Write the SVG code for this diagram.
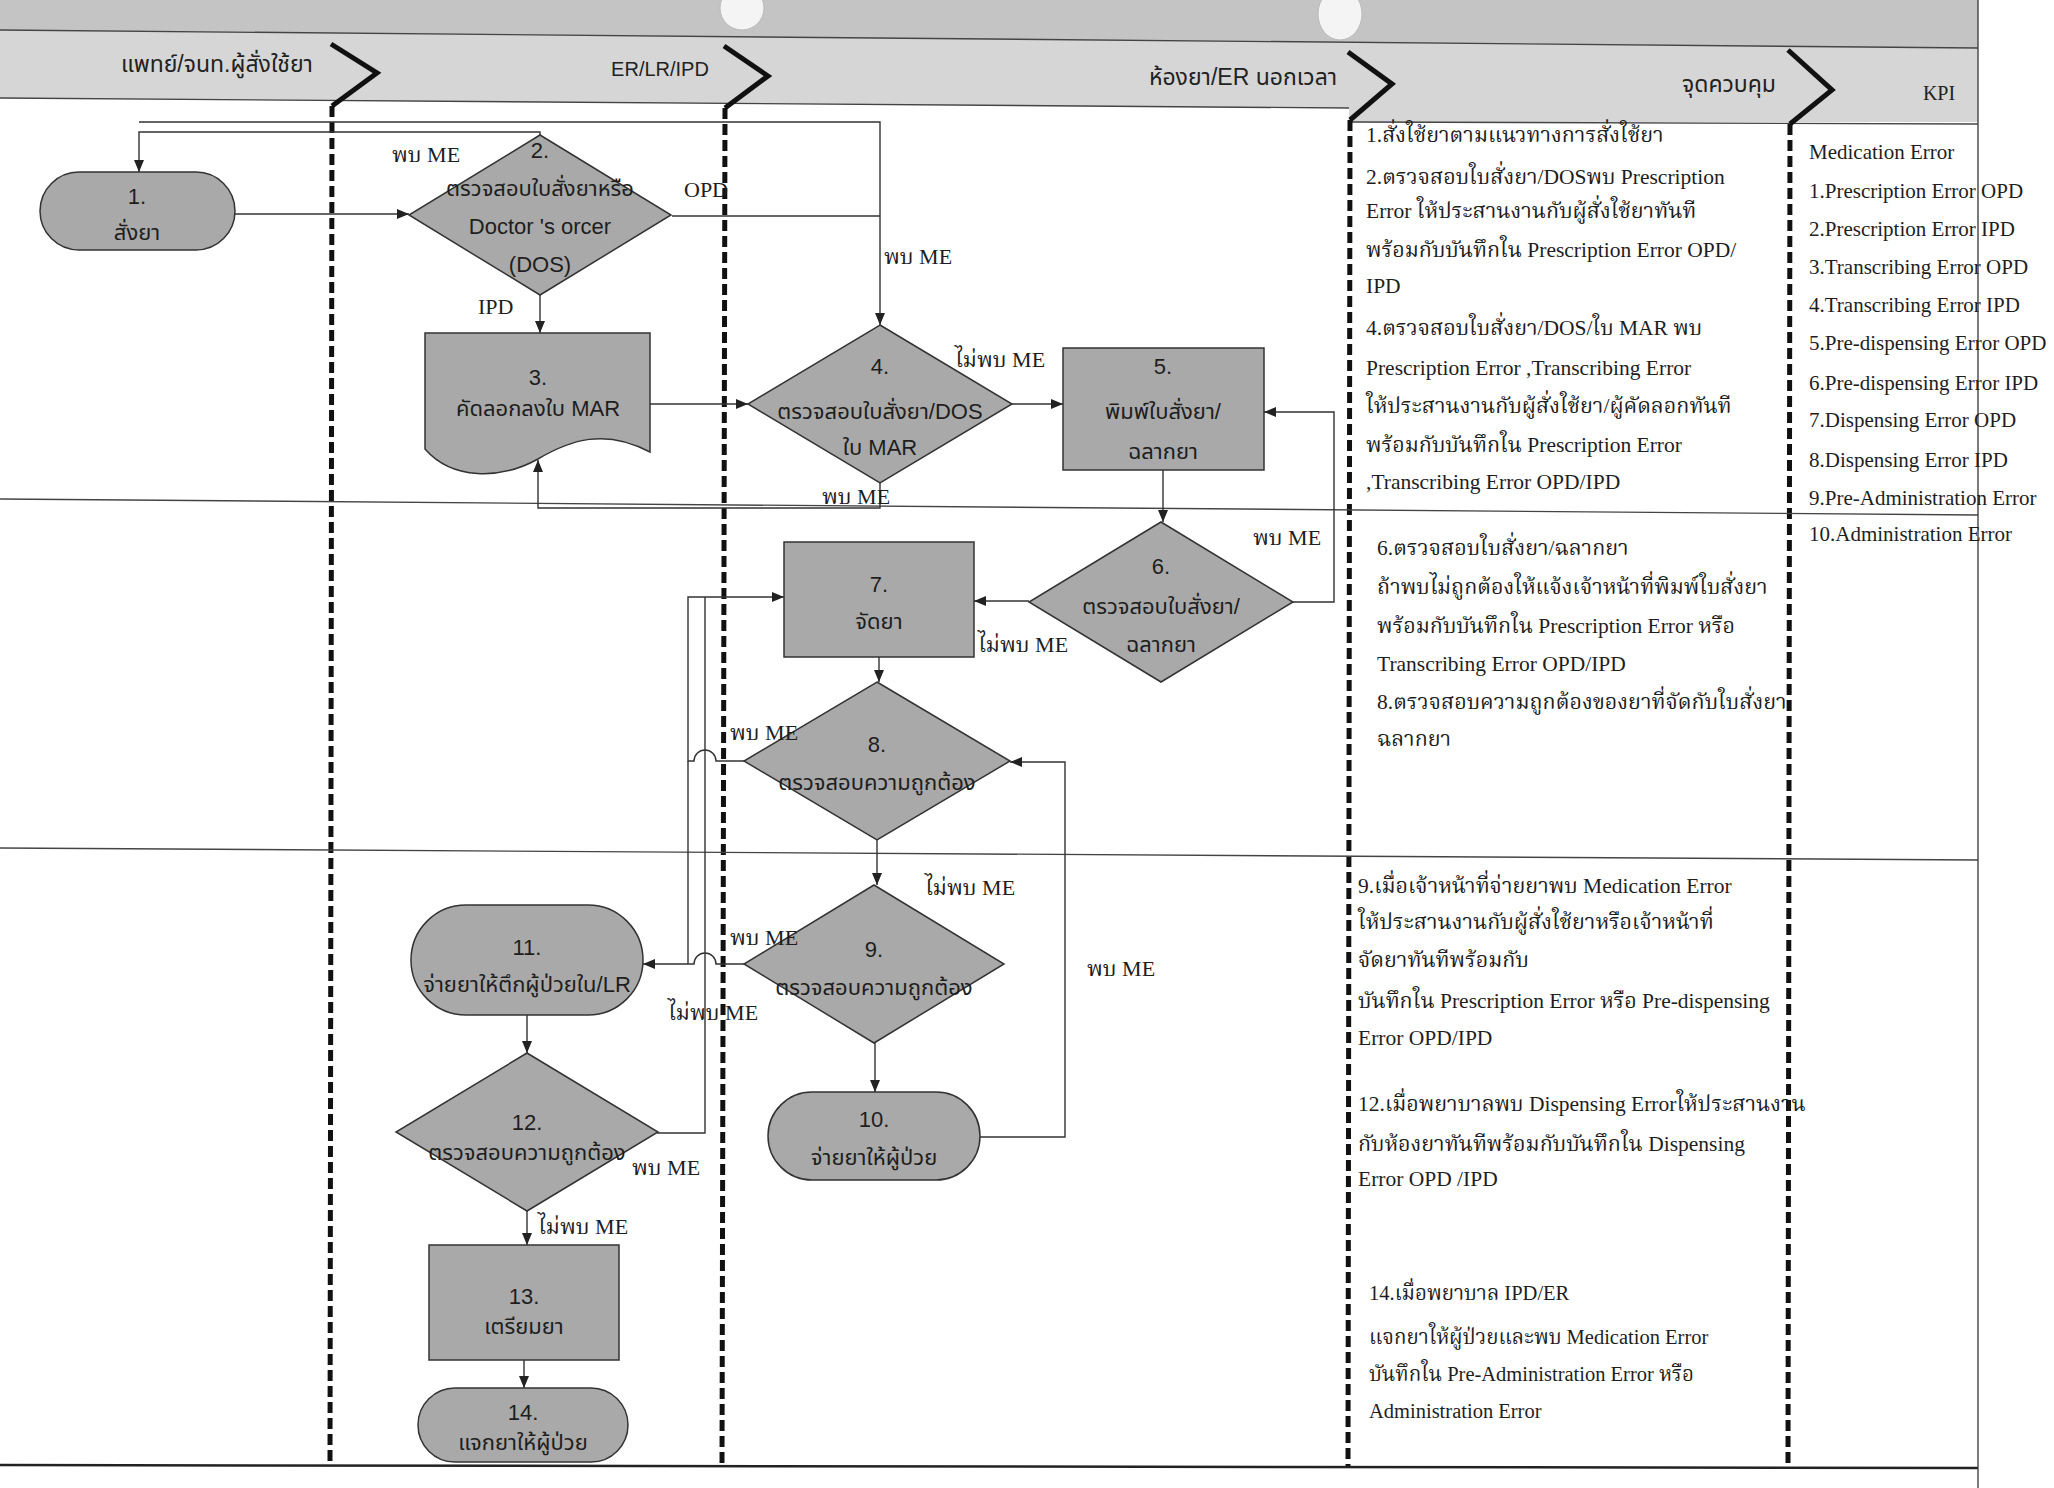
<svg xmlns="http://www.w3.org/2000/svg" width="2054" height="1488" viewBox="0 0 2054 1488">
<style>
.hdr{font-family:"Liberation Sans","Noto Sans Thai","Noto Sans",sans-serif;font-size:23px;fill:#222}
.kpih{font-family:"Liberation Serif","Noto Serif Thai",serif;font-size:20px;fill:#222}
.node{fill:#a9a9a9;stroke:#333;stroke-width:1.5}
.nt{font-family:"Liberation Sans","Noto Sans Thai","Noto Sans",sans-serif;font-size:22px;fill:#1e1e1e;text-anchor:middle}
.lbl{font-family:"Liberation Serif","Noto Serif Thai","Noto Sans Thai",serif;font-size:22px;fill:#1e1e1e}
.ctl{font-family:"Liberation Serif","Noto Serif Thai","Noto Sans Thai",serif;font-size:21.5px;fill:#1e1e1e}
.kpi{font-family:"Liberation Serif","Noto Serif Thai",serif;font-size:21px;fill:#1e1e1e}
.conn{fill:none;stroke:#333;stroke-width:1.4}
.lane{stroke:#111;stroke-width:5;stroke-dasharray:11 5;fill:none}
.chev{fill:none;stroke:#111;stroke-width:5;stroke-linejoin:miter}
.row{stroke:#444;stroke-width:1.4;fill:none}
</style>
<defs>
<marker id="arr" viewBox="0 0 12 10" refX="12" refY="5" markerWidth="12" markerHeight="10" markerUnits="userSpaceOnUse" orient="auto">
<path d="M0,0 L12,5 L0,10 Z" fill="#222"/>
</marker>
</defs>
<rect width="2054" height="1488" fill="#ffffff"/>
<!-- header band -->
<g id="header">
<polygon points="0,0 1978,0 1978,48 0,30" fill="#c4c4c4"/>
<polygon points="0,30 1978,48 1978,122 1349,122 1349,108 0,98" fill="#d6d6d6"/>
<line class="row" x1="0" y1="30" x2="1978" y2="48"/>
<line class="row" x1="0" y1="98" x2="1349" y2="108"/>
<line class="row" x1="1349" y1="122" x2="1978" y2="124"/>
<ellipse cx="742" cy="8" rx="22" ry="22" fill="#f4f4f4" stroke="#bbb" stroke-width="1"/>
<ellipse cx="1340" cy="14" rx="22" ry="26" fill="#f4f4f4" stroke="#bbb" stroke-width="1"/>
<text class="hdr" x="217" y="72" text-anchor="middle">แพทย์/จนท.ผู้สั่งใช้ยา</text>
<text class="hdr" x="660" y="76" text-anchor="middle" style="font-size:20px">ER/LR/IPD</text>
<text class="hdr" x="1243" y="85" text-anchor="middle">ห้องยา/ER นอกเวลา</text>
<text class="hdr" x="1729" y="92" text-anchor="middle">จุดควบคุม</text>
<text class="kpih" x="1939" y="100" text-anchor="middle">KPI</text>
</g>
<!-- lanes -->
<g id="lanes">
<polyline class="chev" points="331,44 377,73 332,106"/>
<polyline class="chev" points="724,46 768,76 725,108"/>
<polyline class="chev" points="1348,52 1392,84 1350,120"/>
<polyline class="chev" points="1788,50 1832,90 1790,124"/>
<line class="lane" x1="332" y1="106" x2="330" y2="1466"/>
<line class="lane" x1="725" y1="108" x2="722" y2="1466"/>
<line class="lane" x1="1350" y1="120" x2="1348" y2="1466"/>
<line class="lane" x1="1790" y1="124" x2="1788" y2="1466"/>
<line class="row" x1="0" y1="499" x2="1978" y2="515"/>
<line class="row" x1="0" y1="848" x2="1978" y2="860"/>
<line x1="0" y1="1465" x2="1978" y2="1468" stroke="#222" stroke-width="2.5"/>
<line class="row" x1="1978" y1="0" x2="1978" y2="1488"/>
</g>
<!-- connectors -->
<g id="connectors">
<path class="conn" d="M235,214 H409" marker-end="url(#arr)"/>
<path class="conn" d="M540,135 V132 H139 V172" marker-end="url(#arr)"/>
<path class="conn" d="M139,122 H880 V325" marker-end="url(#arr)"/>
<path class="conn" d="M672,216 H880"/>
<path class="conn" d="M540,295 V333" marker-end="url(#arr)"/>
<path class="conn" d="M650,404 H748" marker-end="url(#arr)"/>
<path class="conn" d="M1012,404 H1063" marker-end="url(#arr)"/>
<path class="conn" d="M880,483 V508 H538 V460" marker-end="url(#arr)"/>
<path class="conn" d="M1163,470 V522" marker-end="url(#arr)"/>
<path class="conn" d="M1293,602 H1334 V412 H1264" marker-end="url(#arr)"/>
<path class="conn" d="M1029,601 H974" marker-end="url(#arr)"/>
<path class="conn" d="M879,657 V682" marker-end="url(#arr)"/>
<path class="conn" d="M744,761 H716 A11,11 0 0 0 694,761 H688 V597 H784" marker-end="url(#arr)"/>
<path class="conn" d="M688,761 V964"/>
<path class="conn" d="M744,964 H716 A11,11 0 0 0 694,964 H643" marker-end="url(#arr)"/>
<path class="conn" d="M657,1133 H705 V597"/>
<path class="conn" d="M877,840 V885" marker-end="url(#arr)"/>
<path class="conn" d="M875,1043 V1092" marker-end="url(#arr)"/>
<path class="conn" d="M980,1137 H1065 V762 H1010" marker-end="url(#arr)"/>
<path class="conn" d="M527,1015 V1053" marker-end="url(#arr)"/>
<path class="conn" d="M527,1211 V1245" marker-end="url(#arr)"/>
<path class="conn" d="M524,1360 V1388" marker-end="url(#arr)"/>
</g>
<!-- nodes -->
<g id="n1"><rect class="node" x="40" y="172" width="195" height="78" rx="39"/><text class="nt" x="137" y="204">1.</text><text class="nt" x="137" y="240">สั่งยา</text></g>
<g id="n2"><polygon class="node" points="540,135 671,215 540,295 409,215"/><text class="nt" x="540" y="158">2.</text><text class="nt" x="540" y="196">ตรวจสอบใบสั่งยาหรือ</text><text class="nt" x="540" y="234">Doctor 's orcer</text><text class="nt" x="540" y="272">(DOS)</text></g>
<g id="n3"><path class="node" d="M425,333 H650 V452 C605,428 570,440 538,459 C500,480 452,480 425,449 Z"/><text class="nt" x="538" y="385">3.</text><text class="nt" x="538" y="416">คัดลอกลงใบ MAR</text></g>
<g id="n4"><polygon class="node" points="880,325 1012,404 880,483 748,404"/><text class="nt" x="880" y="374">4.</text><text class="nt" x="880" y="419">ตรวจสอบใบสั่งยา/DOS</text><text class="nt" x="880" y="455">ใบ MAR</text></g>
<g id="n5"><rect class="node" x="1063" y="348" width="201" height="122"/><text class="nt" x="1163" y="374">5.</text><text class="nt" x="1163" y="419">พิมพ์ใบสั่งยา/</text><text class="nt" x="1163" y="459">ฉลากยา</text></g>
<g id="n6"><polygon class="node" points="1161,522 1293,602 1161,682 1029,602"/><text class="nt" x="1161" y="574">6.</text><text class="nt" x="1161" y="614">ตรวจสอบใบสั่งยา/</text><text class="nt" x="1161" y="652">ฉลากยา</text></g>
<g id="n7"><rect class="node" x="784" y="542" width="190" height="115"/><text class="nt" x="879" y="592">7.</text><text class="nt" x="879" y="629">จัดยา</text></g>
<g id="n8"><polygon class="node" points="877,682 1010,761 877,840 744,761"/><text class="nt" x="877" y="752">8.</text><text class="nt" x="877" y="790">ตรวจสอบความถูกต้อง</text></g>
<g id="n9"><polygon class="node" points="874,885 1004,964 874,1043 744,964"/><text class="nt" x="874" y="957">9.</text><text class="nt" x="874" y="995">ตรวจสอบความถูกต้อง</text></g>
<g id="n10"><rect class="node" x="768" y="1092" width="212" height="88" rx="44"/><text class="nt" x="874" y="1127">10.</text><text class="nt" x="874" y="1165">จ่ายยาให้ผู้ป่วย</text></g>
<g id="n11"><rect class="node" x="411" y="905" width="232" height="110" rx="55"/><text class="nt" x="527" y="955">11.</text><text class="nt" x="527" y="992">จ่ายยาให้ตึกผู้ป่วยใน/LR</text></g>
<g id="n12"><polygon class="node" points="527,1053 658,1132 527,1211 396,1132"/><text class="nt" x="527" y="1130">12.</text><text class="nt" x="527" y="1160">ตรวจสอบความถูกต้อง</text></g>
<g id="n13"><rect class="node" x="429" y="1245" width="190" height="115"/><text class="nt" x="524" y="1304">13.</text><text class="nt" x="524" y="1334">เตรียมยา</text></g>
<g id="n14"><rect class="node" x="418" y="1388" width="210" height="74" rx="37"/><text class="nt" x="523" y="1420">14.</text><text class="nt" x="523" y="1450">แจกยาให้ผู้ป่วย</text></g>
<!-- connector labels -->
<g id="labels">
<text class="lbl" x="392" y="162">พบ ME</text>
<text class="lbl" x="684" y="197">OPD</text>
<text class="lbl" x="478" y="314">IPD</text>
<text class="lbl" x="884" y="264">พบ ME</text>
<text class="lbl" x="955" y="367">ไม่พบ ME</text>
<text class="lbl" x="822" y="504">พบ ME</text>
<text class="lbl" x="1253" y="545">พบ ME</text>
<text class="lbl" x="978" y="652">ไม่พบ ME</text>
<text class="lbl" x="730" y="740">พบ ME</text>
<text class="lbl" x="925" y="895">ไม่พบ ME</text>
<text class="lbl" x="730" y="945">พบ ME</text>
<text class="lbl" x="668" y="1020">ไม่พบ ME</text>
<text class="lbl" x="1087" y="976">พบ ME</text>
<text class="lbl" x="632" y="1175">พบ ME</text>
<text class="lbl" x="538" y="1234">ไม่พบ ME</text>
</g>
<!-- control points -->
<g id="control">
<text class="ctl" x="1366" y="142">1.สั่งใช้ยาตามแนวทางการสั่งใช้ยา</text>
<text class="ctl" x="1366" y="184">2.ตรวจสอบใบสั่งยา/DOSพบ Prescription</text>
<text class="ctl" x="1366" y="218">Error ให้ประสานงานกับผู้สั่งใช้ยาทันที</text>
<text class="ctl" x="1366" y="257">พร้อมกับบันทึกใน Prescription Error OPD/</text>
<text class="ctl" x="1366" y="293">IPD</text>
<text class="ctl" x="1366" y="335">4.ตรวจสอบใบสั่งยา/DOS/ใบ MAR พบ</text>
<text class="ctl" x="1366" y="375">Prescription  Error ,Transcribing Error</text>
<text class="ctl" x="1366" y="413">ให้ประสานงานกับผู้สั่งใช้ยา/ผู้คัดลอกทันที</text>
<text class="ctl" x="1366" y="452">พร้อมกับบันทึกใน Prescription Error</text>
<text class="ctl" x="1366" y="489">,Transcribing Error OPD/IPD</text>
<text class="ctl" x="1377" y="555">6.ตรวจสอบใบสั่งยา/ฉลากยา</text>
<text class="ctl" x="1377" y="594">ถ้าพบไม่ถูกต้องให้แจ้งเจ้าหน้าที่พิมพ์ใบสั่งยา</text>
<text class="ctl" x="1377" y="633">พร้อมกับบันทึกใน Prescription Error หรือ</text>
<text class="ctl" x="1377" y="671">Transcribing  Error OPD/IPD</text>
<text class="ctl" x="1377" y="709">8.ตรวจสอบความถูกต้องของยาที่จัดกับใบสั่งยา</text>
<text class="ctl" x="1377" y="746">ฉลากยา</text>
<text class="ctl" x="1358" y="893">9.เมื่อเจ้าหน้าที่จ่ายยาพบ Medication  Error</text>
<text class="ctl" x="1358" y="929">ให้ประสานงานกับผู้สั่งใช้ยาหรือเจ้าหน้าที่</text>
<text class="ctl" x="1358" y="967">จัดยาทันทีพร้อมกับ</text>
<text class="ctl" x="1358" y="1008">บันทึกใน Prescription Error หรือ Pre-dispensing</text>
<text class="ctl" x="1358" y="1045">Error OPD/IPD</text>
<text class="ctl" x="1358" y="1111">12.เมื่อพยาบาลพบ Dispensing Errorให้ประสานงาน</text>
<text class="ctl" x="1358" y="1151">กับห้องยาทันทีพร้อมกับบันทึกใน Dispensing</text>
<text class="ctl" x="1358" y="1186">Error OPD /IPD</text>
<text class="ctl" x="1369" y="1300" style="font-size:20.5px">14.เมื่อพยาบาล IPD/ER</text>
<text class="ctl" x="1369" y="1344" style="font-size:20.5px">แจกยาให้ผู้ป่วยและพบ Medication  Error</text>
<text class="ctl" x="1369" y="1381" style="font-size:20.5px">บันทึกใน Pre-Administration Error หรือ</text>
<text class="ctl" x="1369" y="1418" style="font-size:20.5px">Administration Error</text>
</g>
<!-- KPI -->
<g id="kpi">
<text class="kpi" x="1809" y="159">Medication Error</text>
<text class="kpi" x="1809" y="198">1.Prescription Error OPD</text>
<text class="kpi" x="1809" y="236">2.Prescription Error IPD</text>
<text class="kpi" x="1809" y="274">3.Transcribing Error OPD</text>
<text class="kpi" x="1809" y="312">4.Transcribing Error IPD</text>
<text class="kpi" x="1809" y="350">5.Pre-dispensing Error OPD</text>
<text class="kpi" x="1809" y="390">6.Pre-dispensing Error IPD</text>
<text class="kpi" x="1809" y="427">7.Dispensing Error OPD</text>
<text class="kpi" x="1809" y="467">8.Dispensing Error IPD</text>
<text class="kpi" x="1809" y="505">9.Pre-Administration Error</text>
<text class="kpi" x="1809" y="541">10.Administration Error</text>
</g>
</svg>
